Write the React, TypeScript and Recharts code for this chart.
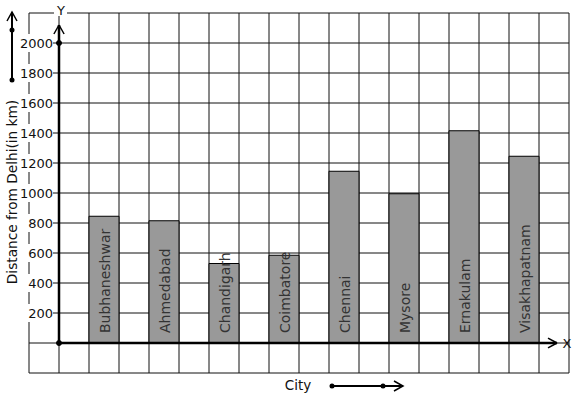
import React from "react";
import {
  BarChart,
  Bar,
  XAxis,
  YAxis,
  CartesianGrid,
  ReferenceLine,
  ReferenceDot,
  LabelList,
} from "recharts";

const cities = [
  "Bubhaneshwar",
  "Ahmedabad",
  "Chandigarh",
  "Coimbatore",
  "Chennai",
  "Mysore",
  "Ernakulam",
  "Visakhapatnam",
];
const distances = [845, 815, 530, 585, 1145, 995, 1415, 1245];
const yTickValues = [-200, 0, 200, 400, 600, 800, 1000, 1200, 1400, 1600, 1800, 2000, 2200];
const yTickLabels = [200, 400, 600, 800, 1000, 1200, 1400, 1600, 1800, 2000];
const xGridValues = [-1, 0, 1, 2, 3, 4, 5, 6, 7, 8, 9, 10, 11, 12, 13, 14, 15, 16, 17];

const data = cities.map((c, i) => ({ city: c, pos: 1.5 + 2 * i, dist: distances[i] }));

const FONT = "DejaVu Sans, sans-serif";

const EmptyTick = () => <g />;

const makeYLabel = (v: number) => (props: any) => {
  const vb = props.viewBox || {};
  const y = vb.y;
  const txt = String(v);
  const w = txt.length * 8.2 + 2;
  return (
    <g>
      <rect x={53 - w} y={y - 9} width={w} height={18} fill="#fff" />
      <text x={53} y={y} textAnchor="end" dominantBaseline="central" fontFamily={FONT} fontSize={13} fill="#111">
        {txt}
      </text>
    </g>
  );
};

const BarLabel = (props: any) => {
  const { x, y, width, height, value } = props;
  const cx = x + width / 2 + 6;
  const by = y + height - 10;
  return (
    <text
      x={cx}
      y={by}
      transform={`rotate(-90 ${cx} ${by})`}
      textAnchor="start"
      fontFamily={FONT}
      fontSize={14}
      fill="#333"
    >
      {value}
    </text>
  );
};

export default function App() {
  return (
    <div style={{ position: "absolute", left: 0, top: 0, width: 577, height: 399, background: "#fff" }}>
      <BarChart
        width={577}
        height={399}
        data={data}
        margin={{ top: 13, right: 8, bottom: 26, left: 29 }}
      >
        <CartesianGrid stroke="#111" strokeWidth={1} />
        <XAxis
          type="number"
          dataKey="pos"
          domain={[-1, 17]}
          ticks={xGridValues}
          interval={0}
          height={0}
          axisLine={false}
          tickLine={false}
          tick={EmptyTick}
        />
        <YAxis
          type="number"
          domain={[-200, 2200]}
          ticks={yTickValues}
          interval={0}
          width={0}
          axisLine={false}
          tickLine={false}
          tick={EmptyTick}
        />
        <Bar dataKey="dist" barSize={30} fill="#999999" stroke="#000" strokeWidth={1} isAnimationActive={false}>
          <LabelList dataKey="city" content={<BarLabel />} />
        </Bar>
        {yTickLabels.map((v) => (
          <ReferenceLine
            key={"yl" + v}
            y={v}
            stroke="none"
            ifOverflow="visible"
            label={makeYLabel(v)}
          />
        ))}
        <ReferenceLine segment={[{ x: 0, y: 0 }, { x: 0, y: 2120 }]} stroke="#000" strokeWidth={2.5} ifOverflow="visible" />
        <ReferenceLine segment={[{ x: -0.17, y: 2060 }, { x: 0, y: 2120 }]} stroke="#000" strokeWidth={1.5} ifOverflow="visible" />
        <ReferenceLine segment={[{ x: 0.17, y: 2060 }, { x: 0, y: 2120 }]} stroke="#000" strokeWidth={1.5} ifOverflow="visible" />
        <ReferenceLine segment={[{ x: 0, y: 0 }, { x: 16.6, y: 0 }]} stroke="#000" strokeWidth={2.5} ifOverflow="visible" />
        <ReferenceLine segment={[{ x: 16.3, y: 33 }, { x: 16.6, y: 0 }]} stroke="#000" strokeWidth={1.5} ifOverflow="visible" />
        <ReferenceLine segment={[{ x: 16.3, y: -33 }, { x: 16.6, y: 0 }]} stroke="#000" strokeWidth={1.5} ifOverflow="visible" />
        <ReferenceDot x={0} y={0} r={2.5} fill="#000" stroke="#000" ifOverflow="visible" />
        <ReferenceDot x={0} y={2000} r={2.5} fill="#000" stroke="#000" ifOverflow="visible" />
      </BarChart>
      <svg
        width={577}
        height={399}
        style={{ position: "absolute", left: 0, top: 0, pointerEvents: "none" }}
      >
        <rect x={54} y={3} width={13} height={13} fill="#fff" />
        <text x={61} y={10} textAnchor="middle" dominantBaseline="central" fontFamily={FONT} fontSize={13} fill="#111">
          Y
        </text>
        <text x={567} y={343} textAnchor="middle" dominantBaseline="central" fontFamily={FONT} fontSize={13} fill="#111">
          X
        </text>
        <text
          x={12}
          y={192}
          transform="rotate(-90 12 192)"
          textAnchor="middle"
          dominantBaseline="central"
          fontFamily={FONT}
          fontSize={13.7}
          fill="#111"
        >
          Distance from Delhi(in km)
        </text>
        <text x={298} y={385} textAnchor="middle" dominantBaseline="central" fontFamily={FONT} fontSize={13.5} fill="#111">
          City
        </text>
        <line x1={12} y1={80} x2={12} y2={12} stroke="#000" strokeWidth={2} />
        <polyline points="7,21 12,12 17,21" fill="none" stroke="#000" strokeWidth={1.5} />
        <circle cx={12} cy={30} r={2.5} fill="#000" />
        <circle cx={12} cy={80} r={2.5} fill="#000" />
        <line x1={332} y1={386} x2={403} y2={386} stroke="#000" strokeWidth={2} />
        <polyline points="394,381 403,386 394,391" fill="none" stroke="#000" strokeWidth={1.5} />
        <circle cx={332} cy={386} r={2.5} fill="#000" />
        <circle cx={383} cy={386} r={2.5} fill="#000" />
      </svg>
    </div>
  );
}
